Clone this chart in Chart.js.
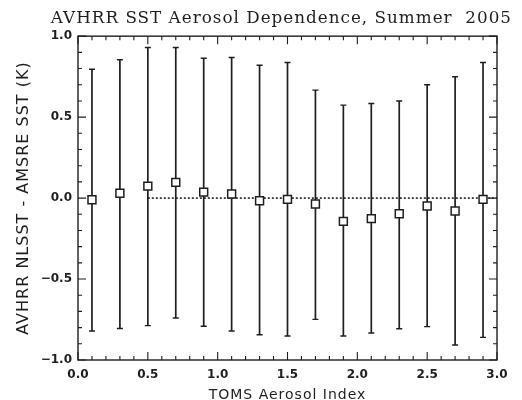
<!DOCTYPE html>
<html><head><meta charset="utf-8">
<style>html,body{margin:0;padding:0;background:#fff;} #wrap{width:522px;height:400px;}</style>
<script src="https://cdn.jsdelivr.net/npm/chart.js@4.4.1/dist/chart.umd.min.js"></script>
</head><body><div id="wrap"><canvas id="c" width="522" height="400"></canvas></div>
<script>
const titleText = 'AVHRR SST Aerosol Dependence, Summer  2005';
const xAxisTitle = 'TOMS Aerosol Index';
const yAxisTitle = 'AVHRR NLSST - AMSRE SST (K)';
const aerosolIndex = [0.1, 0.3, 0.5, 0.7, 0.9, 1.1, 1.3, 1.5, 1.7, 1.9, 2.1, 2.3, 2.5, 2.7, 2.9];
const meanDiff  = [-0.010, 0.030, 0.074, 0.097, 0.037, 0.025, -0.017, -0.008, -0.037, -0.144, -0.127, -0.097, -0.049, -0.080, -0.008];
const upperDiff = [0.796, 0.854, 0.930, 0.930, 0.864, 0.868, 0.820, 0.837, 0.667, 0.574, 0.584, 0.600, 0.700, 0.749, 0.837];
const lowerDiff = [-0.821, -0.805, -0.788, -0.741, -0.792, -0.821, -0.844, -0.852, -0.749, -0.852, -0.833, -0.807, -0.794, -0.907, -0.860];
const xTickValues = [0, 0.5, 1, 1.5, 2, 2.5, 3];
const xTickLabels = ['0.0', '0.5', '1.0', '1.5', '2.0', '2.5', '3.0'];
const yTickValues = [-1, -0.5, 0, 0.5, 1];
const yTickLabels = ['\u22121.0', '\u22120.5', '0.0', '0.5', '1.0'];
const zeroLineX = [0.5, 3.0];
const zeroLineY = [0, 0];

const ink = '#1e1e1e';

const meanPoints = aerosolIndex.map((x, i) => ({x, y: meanDiff[i]}));
const capPoints = [];
const barSegments = [];
aerosolIndex.forEach((x, i) => {
  capPoints.push({x, y: upperDiff[i]}, {x, y: lowerDiff[i]});
  barSegments.push({x, y: lowerDiff[i]}, {x, y: upperDiff[i]}, {x, y: null});
});
const zeroPoints = zeroLineX.map((x, i) => ({x, y: zeroLineY[i]}));

const spacingPlugin = {
  id: 'titleSpacing',
  beforeDraw(chart) { chart.ctx.letterSpacing = '1px'; },
  beforeDatasetsDraw(chart) { chart.ctx.letterSpacing = '0px'; }
};

const framePlugin = {
  id: 'frameTicks',
  afterDatasetsDraw(chart) {
    const {ctx, chartArea: a, scales: {x, y}} = chart;
    ctx.save();
    ctx.strokeStyle = ink;
    ctx.lineWidth = 1.4;
    ctx.strokeRect(a.left, a.top, a.right - a.left, a.bottom - a.top);
    ctx.lineWidth = 1.1;
    ctx.beginPath();
    for (let k = 0; k <= 30; k++) {
      const px = x.getPixelForValue(k / 10);
      const len = k % 5 === 0 ? 8 : 4;
      ctx.moveTo(px, a.bottom); ctx.lineTo(px, a.bottom - len);
      ctx.moveTo(px, a.top); ctx.lineTo(px, a.top + len);
    }
    for (let k = -10; k <= 10; k++) {
      const py = y.getPixelForValue(k / 10);
      const len = k % 5 === 0 ? 8 : 4;
      ctx.moveTo(a.left, py); ctx.lineTo(a.left + len, py);
      ctx.moveTo(a.right, py); ctx.lineTo(a.right - len, py);
    }
    ctx.stroke();
    ctx.restore();
  }
};

new Chart(document.getElementById('c'), {
  type: 'scatter',
  data: {
    datasets: [
      {label: 'mean', data: meanPoints, pointStyle: 'rect', pointRadius: 5.6,
       backgroundColor: '#ffffff', borderColor: ink, borderWidth: 1.5, showLine: false},
      {label: 'caps', data: capPoints, pointStyle: 'line', pointRadius: 3,
       borderColor: ink, borderWidth: 1.4, showLine: false},
      {label: 'bars', type: 'line', data: barSegments, borderColor: ink, borderWidth: 1.7,
       pointRadius: 0, spanGaps: false, fill: false},
      {label: 'zero', type: 'line', data: zeroPoints, borderColor: ink, borderWidth: 1.6,
       borderDash: [2, 2], pointRadius: 0, fill: false}
    ]
  },
  options: {
    responsive: false,
    animation: false,
    layout: {padding: {left: 0, right: 10, top: 0, bottom: 0}},
    plugins: {
      legend: {display: false},
      tooltip: {enabled: false},
      title: {display: true, text: titleText, align: 'end', color: ink,
              font: {family: 'DejaVu Serif', size: 16.8, weight: 'normal'},
              padding: {top: 9, bottom: 7}}
    },
    scales: {
      x: {
        type: 'linear', position: 'bottom', min: 0, max: 3,
        afterBuildTicks: s => { s.ticks = xTickValues.map(v => ({value: v})); },
        afterFit: s => { s.height = 40; },
        ticks: {callback: (v, i) => xTickLabels[i], color: ink, padding: 8, maxRotation: 0, autoSkip: false, z: 1,
                font: {family: 'DejaVu Sans', size: 12, weight: 'bold'}},
        grid: {display: true, drawOnChartArea: false, drawTicks: false},
        border: {display: false},
        title: {display: true, text: xAxisTitle, color: ink, padding: {top: 0, bottom: -4},
                font: {family: 'DejaVu Sans', size: 14}}
      },
      y: {
        type: 'linear', position: 'left', min: -1, max: 1,
        afterBuildTicks: s => { s.ticks = yTickValues.map(v => ({value: v})); },
        afterFit: s => { s.width = 78; },
        ticks: {callback: (v, i) => yTickLabels[i], color: ink, padding: 6, autoSkip: false, z: 1,
                font: {family: 'DejaVu Sans', size: 12, weight: 'bold'}},
        grid: {display: true, drawOnChartArea: false, drawTicks: false},
        border: {display: false},
        title: {display: true, text: yAxisTitle, color: ink, padding: {top: 14, bottom: 0},
                font: {family: 'DejaVu Sans', size: 16}}
      },
      yR: {
        type: 'linear', position: 'right', display: true,
        afterFit: s => { s.width = 15; },
        ticks: {display: false},
        grid: {display: false},
        border: {display: false}
      }
    }
  },
  plugins: [spacingPlugin, framePlugin]
});
</script>
</body></html>
